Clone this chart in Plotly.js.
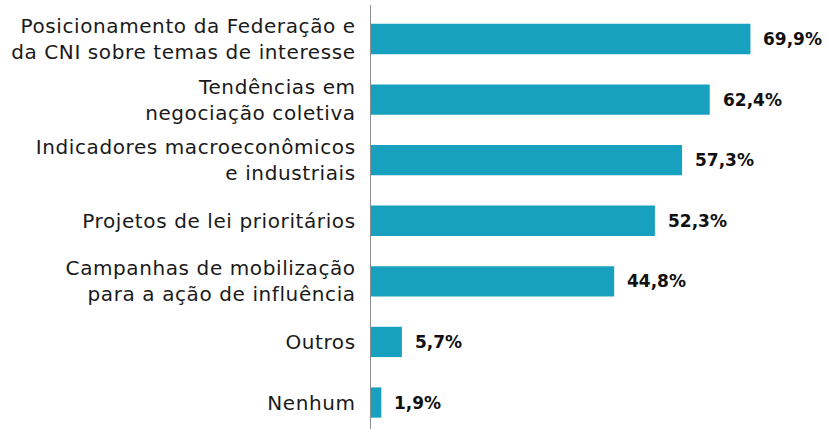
<!DOCTYPE html>
<html>
<head>
<meta charset="utf-8">
<script src="https://cdn.plot.ly/plotly-3.0.1.min.js"></script>
<style>
html,body{margin:0;padding:0;background:#fff;}
#chart{width:827px;height:429px;}
#chart .ytick text{letter-spacing:0.6px;}
</style>
</head>
<body>
<div id="chart"></div>
<script>
const categories = [
  "Posicionamento da Federação e<br>da CNI sobre temas de interesse",
  "Tendências em<br>negociação coletiva",
  "Indicadores macroeconômicos<br>e industriais",
  "Projetos de lei prioritários",
  "Campanhas de mobilização<br>para a ação de influência",
  "Outros",
  "Nenhum"
];
const values = [69.9, 62.4, 57.3, 52.3, 44.8, 5.7, 1.9];
const valueLabels = ["69,9%", "62,4%", "57,3%", "52,3%", "44,8%", "5,7%", "1,9%"];

const trace = {
  type: 'bar',
  orientation: 'h',
  y: categories,
  x: values,
  width: 0.5,
  marker: {color: '#18a0bf'},
  hoverinfo: 'none'
};

const annotations = values.map((v, i) => ({
  x: v, y: categories[i], xref: 'x', yref: 'y',
  text: '<b>' + valueLabels[i] + '</b>',
  showarrow: false, xanchor: 'left', xshift: 11,
  font: {family: '"DejaVu Sans", sans-serif', size: 17, color: '#111'}
}));

const layout = {
  width: 827, height: 429,
  margin: {l: 371, r: 0, t: 5, b: 0},
  paper_bgcolor: '#fff', plot_bgcolor: '#fff',
  showlegend: false,
  xaxis: {range: [0, 84], visible: false, fixedrange: true},
  yaxis: {
    type: 'category',
    range: [6.437, -0.561],
    showline: true, linecolor: '#8c8c8c', linewidth: 1.3,
    showgrid: false, zeroline: false, ticks: '',
    ticklabelstandoff: 10,
    tickfont: {family: '"DejaVu Sans", sans-serif', size: 20, color: '#1a1a1a'}
  },
  annotations: annotations
};

Plotly.newPlot('chart', [trace], layout, {displayModeBar: false, staticPlot: true});
</script>
</body>
</html>
